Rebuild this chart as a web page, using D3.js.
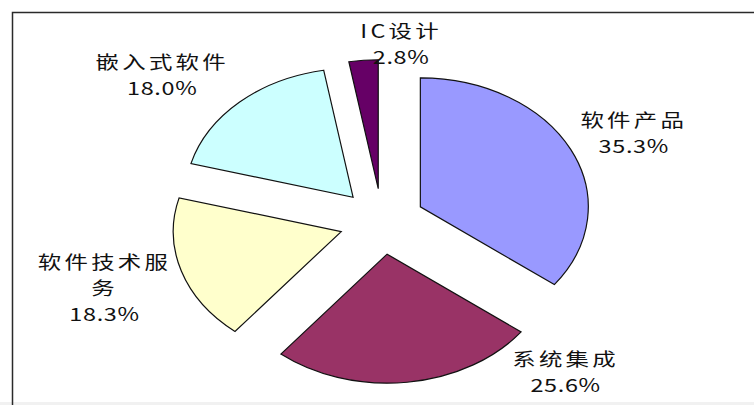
<!DOCTYPE html>
<head>
  <meta charset="utf-8">
  <style>
    body { margin: 0; background: #fff; }
    svg { display: block; }
    svg .slice {
      stroke: #111;
      stroke-width: 1.2px;
      vector-effect: non-scaling-stroke;
    }
    svg .frame {
      stroke: #2a2a2a;
      stroke-width: 1.5px;
      fill: none;
    }
    svg text {
      font-family: "Noto Sans CJK SC", "Noto Sans", sans-serif;
      font-size: 18px;
      fill: #111;
    }
  </style>
</head>

<body>
<script src="https://d3js.org/d3.v7.min.js"></script>

<script>
  // chart data
  var categories = ["软件产品", "系统集成", "软件技术服务", "嵌入式软件", "IC设计"];
  var shares     = [35.3, 25.6, 18.3, 18.0, 2.8];
  var colors     = ["#9999ff", "#993366", "#ffffcc", "#ccffff", "#660066"];
  // label text as it wraps in the picture
  var labelLines = [["软件产品"], ["系统集成"], ["软件技术服", "务"], ["嵌入式软件"], ["IC设计"]];

  // label placement around the pie: [angle in degrees, distance]
  var labelLayout = [[65.2, 213], [136.8, 206], [252.9, 223], [311.1, 224], [4.7, 179]];

  var width  = 754,
      height = 405,
      cx = 382,            // pie centre, pixels
      cy = 221.5,
      radius = 129,        // vertical radius
      stretch = 1.302,     // picture is stretched horizontally
      explode = 0.255,     // slices pulled out by this share of the radius
      lineHeight = 26;

  var svg = d3.select("body")
    .append("svg")
      .attr("width", width)
      .attr("height", height);

  // faint strip along the bottom edge
  svg.append("rect")
      .attr("x", 0)
      .attr("y", 402)
      .attr("width", width)
      .attr("height", 3)
      .style("fill", "#f1f1f1");

  // frame: only top and left edges are in view
  svg.append("path")
      .classed("frame", true)
      .attr("d", "M12.5," + height + "V12.5H" + width);

  var pie = d3.pie()
      .sort(null)
      .value(function (d) { return d; });

  var arc = d3.arc()
      .innerRadius(0)
      .outerRadius(radius);

  var arcs = pie(shares);

  var g = svg.append("g")
      .attr("transform", "translate(" + cx + "," + cy + ") scale(" + stretch + ",1)");

  g.selectAll("path.slice")
    .data(arcs)
    .enter()
    .append("path")
      .classed("slice", true)
      .attr("d", arc)
      .attr("transform", function (d) {
        var p = d3.pointRadial((d.startAngle + d.endAngle) / 2, explode * radius);
        return "translate(" + p[0] + "," + p[1] + ")";
      })
      .style("fill", function (d, i) { return colors[i]; });

  // data labels
  var fmt = d3.format(".1f");

  arcs.forEach(function (d, i) {
    var p = d3.pointRadial(labelLayout[i][0] * Math.PI / 180, labelLayout[i][1]);
    var x = cx + p[0] * stretch,
        y = cy + p[1];
    var lines = labelLines[i].concat([fmt(shares[i]) + "%"]);
    var n = lines.length;

    lines.forEach(function (line, j) {
      var isPct = j === n - 1;
      svg.append("text")
          .attr("transform", "translate(" + x + "," + (y + (j - (n - 1) / 2) * lineHeight) + ") scale(" + stretch + ",1)")
          .attr("text-anchor", "middle")
          .attr("dominant-baseline", "central")
          .style("letter-spacing", isPct ? "0.5px" : "2.5px")
          .text(line);
    });
  });
</script>
</body>
</html>
